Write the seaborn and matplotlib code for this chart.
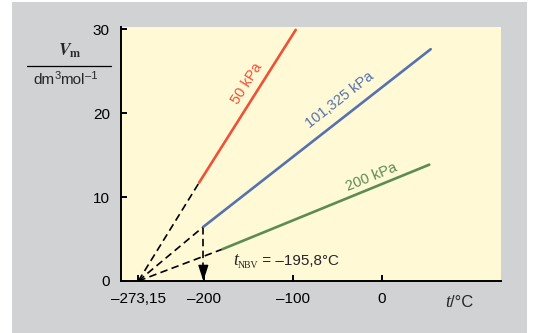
import numpy as np
import pandas as pd
import matplotlib
matplotlib.use("Agg")
import matplotlib.pyplot as plt
import seaborn as sns
from matplotlib.lines import Line2D
from matplotlib.patches import Rectangle

# ---------------- data ----------------
pressures = ["50 kPa", "101,325 kPa", "200 kPa"]
t_start = [-205.0, -200.2, -178.5]      # °C, start of solid segment
v_start = [11.7, 6.45, 3.8]             # dm3/mol
t_end = [-96.5, 55.0, 53.4]             # °C, end of solid segment
v_end = [29.9, 27.6, 13.85]             # dm3/mol
t_abs_zero = -273.15
t_nbv_index = 1                          # boiling point marked on the 101,325 kPa line
xtick_values = [-273.15, -200, -100, 0]
xtick_labels = ["–273,15", "–200", "–100", "0"]
ytick_values = [0, 10, 20, 30]
ytick_labels = ["0", "10", "20", "30"]
nbv_text = "–195,8°C"

colors = ["#EE5236", "#5572AE", "#5B8C52"]
GRAY = "#D1D2D4"
YELLOW = "#FFF9D6"

# ---------------- style ----------------
sns.set_theme(style="ticks")
plt.rcParams["font.family"] = ["Liberation Sans", "DejaVu Sans"]
plt.rcParams["mathtext.fontset"] = "stix"

W, H = 534, 333
fig = plt.figure(figsize=(W / 100, H / 100), dpi=100)
fig.patch.set_facecolor("white")
fig.add_artist(Rectangle((12 / W, 0), (527 - 12) / W, (331) / H,
                         transform=fig.transFigure, facecolor=GRAY,
                         edgecolor="none", zorder=-10))

ax = fig.add_axes([121 / W, (H - 281) / H, (501 - 121) / W, (281 - 27) / H])
ax.set_facecolor(YELLOW)
ax.set_xlim(-292.6, 133.9)
ax.set_ylim(0, 30.24)
renderer = fig.canvas.get_renderer()


def chain(x_px, y_px, pieces):
    """Place text pieces one after another; x_px,y_px = left/baseline in pixels (top origin)."""
    x = x_px
    for s, kw, dy in pieces:
        t = fig.text(x / W, 1 - (y_px - dy) / H, s, ha="left", va="baseline", **kw)
        bb = t.get_window_extent(renderer)
        x += bb.width
    return x


# solid segments
solid = pd.DataFrame({
    "t": t_start + t_end,
    "V": v_start + v_end,
    "p": pressures + pressures,
})
sns.lineplot(data=solid, x="t", y="V", hue="p", palette=dict(zip(pressures, colors)),
             hue_order=pressures, estimator=None, sort=False, lw=1.9,
             legend=False, ax=ax, zorder=3)

# dashed extrapolation to absolute zero
for ts, vs in zip(t_start, v_start):
    sns.lineplot(x=[t_abs_zero, ts], y=[0, vs], color="black", lw=1.2,
                 estimator=None, sort=False, ax=ax, zorder=2,
                 dashes=False, linestyle=(0, (4.5, 2.6)), clip_on=False)

# vertical arrow at the normal boiling point
tn, vn = t_start[t_nbv_index], v_start[t_nbv_index]
ax.plot([tn, tn], [vn, 1.2], color="black", lw=1.2, linestyle=(0, (4.5, 2.6)), zorder=2)
ax.annotate("", xy=(tn, 0), xytext=(tn, 1.5),
            arrowprops=dict(arrowstyle="-|>,head_length=0.8,head_width=0.26",
                            color="black", lw=1.0, shrinkA=0, shrinkB=0),
            zorder=4)

# rotated series labels
label_pos = [(-151.7, 23.5), (-46.8, 21.5), (-12.0, 12.4)]
for i, (lt, lv) in enumerate(label_pos):
    p1 = ax.transData.transform((t_start[i], v_start[i]))
    p2 = ax.transData.transform((t_end[i], v_end[i]))
    ang = np.degrees(np.arctan2(p2[1] - p1[1], p2[0] - p1[0]))
    ax.text(lt, lv, pressures[i], color=colors[i], fontsize=10.5,
            rotation=ang, rotation_mode="anchor", ha="center", va="center")

# t_NBV label
serif_it = dict(family="Liberation Serif", style="italic", fontsize=13)
serif_sub = dict(family="Liberation Serif", fontsize=7)
sans = dict(family=["Liberation Sans", "DejaVu Sans"], fontsize=11)
chain(233, 265, [("t", serif_it, 0), ("NBV", serif_sub, -3),
                 (" = " + nbv_text, sans, 0)])

# axes styling
for s in ["top", "right"]:
    ax.spines[s].set_visible(False)
for s in ["left", "bottom"]:
    ax.spines[s].set_color("black")
    ax.spines[s].set_linewidth(1.4)
ax.set_xticks(xtick_values)
ax.set_xticklabels(xtick_labels)
ax.set_yticks(ytick_values)
ax.set_yticklabels(ytick_labels)
ax.tick_params(direction="in", length=4, width=1.4, pad=8, labelsize=11,
               colors="black")
ax.set_xlabel("")
ax.set_ylabel("")

# x axis label
chain(445, 307, [("t", serif_it, 0), ("/°C", dict(family="Liberation Sans", fontsize=12), 0)])

# y axis label as a fraction
fig.text(70 / W, 1 - 51 / H, r"$\mathbfit{V}_{\mathbf{m}}$", fontsize=12.5,
         ha="center", va="center")
fig.add_artist(Line2D([27 / W, 111 / W], [1 - 65.7 / H] * 2,
                      transform=fig.transFigure, color="black", lw=0.9))
main = dict(family="Liberation Sans", fontsize=11)
sup = dict(family="Liberation Sans", fontsize=8)
chain(33, 84, [("dm", main, 0), ("3", sup, 5), ("mol", main, 0), ("–1", sup, 5)])

fig.savefig("out.png", dpi=100, facecolor=fig.get_facecolor())
